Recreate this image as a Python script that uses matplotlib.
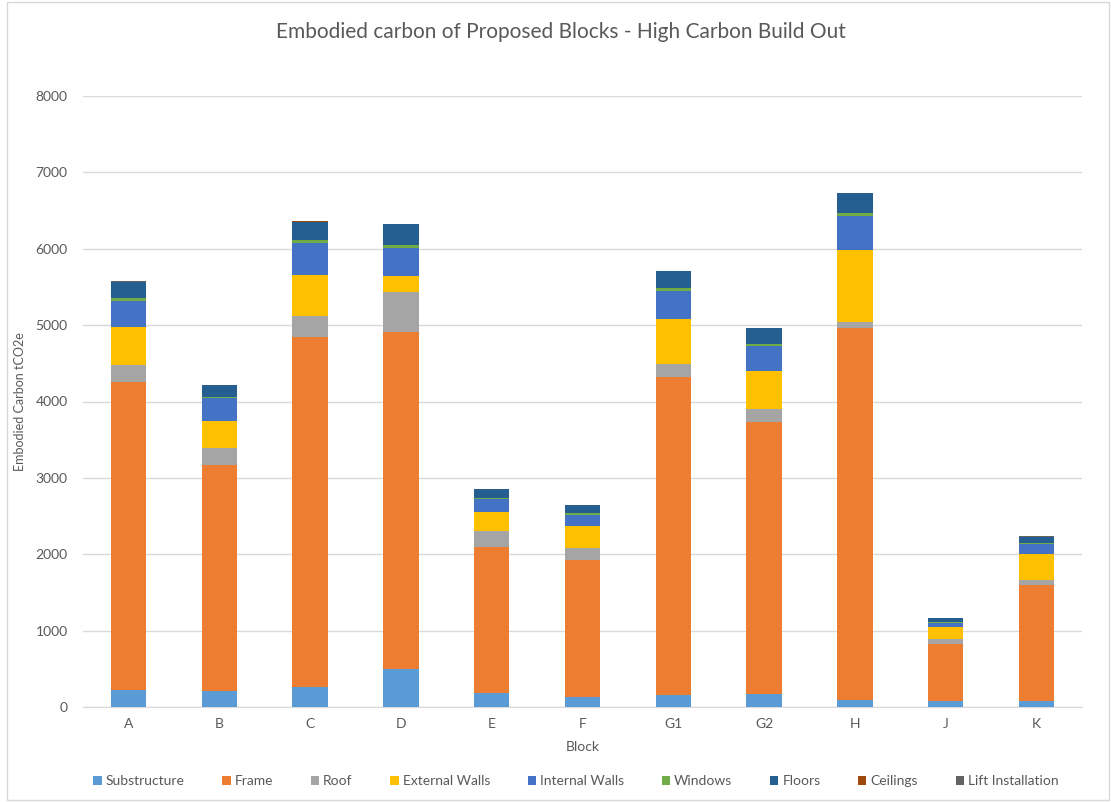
import matplotlib.pyplot as plt
import numpy as np

plt.rcParams['font.family'] = ['Lato', 'DejaVu Sans']

blocks = ['A', 'B', 'C', 'D', 'E', 'F', 'G1', 'G2', 'H', 'J', 'K']

substructure = [223, 213, 258, 493, 188, 135, 153, 166, 88, 75, 75]
frame = [4032, 2956, 4591, 4421, 1911, 1790, 4172, 3566, 4870, 750, 1518]
roof = [223, 226, 271, 524, 201, 153, 162, 165, 87, 65, 70]
external_walls = [497, 354, 536, 205, 258, 292, 589, 506, 935, 162, 340]
internal_walls = [341, 293, 424, 371, 165, 148, 375, 328, 449, 52, 127]
windows = [35, 17, 30, 35, 18, 22, 31, 22, 35, 13, 17]
floors = [218, 157, 236, 271, 109, 101, 227, 205, 262, 48, 83]
ceilings = [0, 0, 14, 0, 0, 0, 0, 0, 0, 0, 0]
lift_installation = [4, 4, 6, 4, 4, 8, 4, 4, 4, 4, 4]

series = [
    ('Substructure', substructure, '#5B9BD5'),
    ('Frame', frame, '#ED7D31'),
    ('Roof', roof, '#A5A5A5'),
    ('External Walls', external_walls, '#FFC000'),
    ('Internal Walls', internal_walls, '#4472C4'),
    ('Windows', windows, '#70AD47'),
    ('Floors', floors, '#255E91'),
    ('Ceilings', ceilings, '#9E480E'),
    ('Lift Installation', lift_installation, '#636363'),
]

W, H = 1111, 802
fig = plt.figure(figsize=(W / 100, H / 100), dpi=100)
ax = fig.add_axes([83 / W, 95 / H, 999 / W, 611 / H])

x = np.arange(len(blocks))
bottom = np.zeros(len(blocks))
for name, vals, col in series:
    ax.bar(x, vals, 0.39, bottom=bottom, color=col, label=name, linewidth=0, zorder=3)
    bottom += np.array(vals)

ax.set_ylim(0, 8000)
ax.set_xlim(-0.5, len(blocks) - 0.5)
ax.set_yticks(np.arange(0, 8001, 1000))
ax.set_xticks(x)
ax.set_xticklabels(blocks)
ax.grid(axis='y', color='#D9D9D9', linewidth=1, zorder=0)
for s in ['top', 'right', 'left']:
    ax.spines[s].set_visible(False)
ax.spines['bottom'].set_color('#D9D9D9')
ax.tick_params(length=0, colors='#595959', labelsize=10)
ax.tick_params(axis='y', pad=11)
ax.tick_params(axis='x', pad=8)

fig.text(561 / W, 1 - 32 / H, 'Embodied carbon of Proposed Blocks - High Carbon Build Out',
         fontsize=15, color='#595959', ha='center', va='center')
ax.set_xlabel('Block', fontsize=10, color='#595959', labelpad=8)
ax.set_ylabel('Embodied Carbon tCO2e', fontsize=9, color='#595959', labelpad=7)

ax.legend(loc='center', bbox_to_anchor=(576 / W, 1 - 781 / H), bbox_transform=fig.transFigure,
          ncol=9, frameon=False, fontsize=10, labelcolor='#595959',
          handlelength=0.6, handleheight=0.6, handletextpad=0.3, columnspacing=2.7)

fig.patches.append(plt.Rectangle((7 / W, 0.002), 1 - 9 / W, 0.996, transform=fig.transFigure,
                                 fill=False, edgecolor='#D9D9D9', linewidth=1))

fig.savefig('out.png', dpi=100)
